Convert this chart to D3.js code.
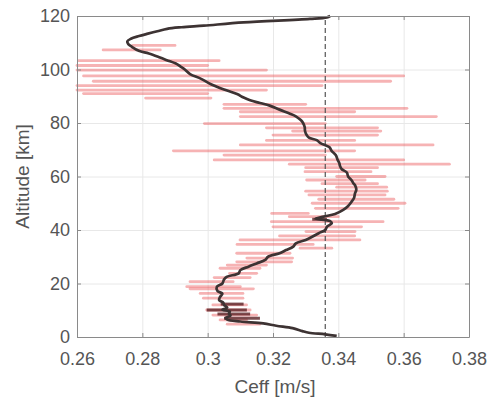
<!DOCTYPE html>
<html>
<head>
<meta charset="utf-8">
<script src="https://cdn.jsdelivr.net/npm/d3@7"></script>
<style>
  body { margin: 0; background: #fff; }
  svg { font-family: "Liberation Sans", Arial, sans-serif; }
</style>
</head>
<body>
<div id="chart"></div>
<script>
// axis ticks
const xTicks = [0.26, 0.28, 0.3, 0.32, 0.34, 0.36, 0.38];
const yTicks = [0, 20, 40, 60, 80, 100, 120];
const refCeff = 0.336;

// mean profile (black)
const profileAlt = [0.4, 1.0, 1.6, 2.2, 3.3, 4.2, 5.1, 5.8, 6.5, 7.2, 8.0, 8.8, 9.5, 10.2, 11.0, 12.0, 12.8, 13.8, 15.0, 16.2,
  17.2, 18.8, 20.0, 21.5, 22.5, 23.8, 25.0, 26.3, 27.5, 28.8, 30.0, 31.3, 32.5, 33.8, 35.0, 36.3, 37.5, 38.8, 40.0, 41.2,
  42.5, 43.3, 44.2, 45.0, 46.0, 47.5, 49.0, 50.5, 52.0, 53.7, 55.0, 56.5, 57.5, 58.7, 60.0, 61.5, 62.8, 64.0, 65.0, 66.2,
  68.0, 69.5, 71.0, 72.5, 73.6, 74.5, 75.5, 77.0, 78.5, 80.0, 81.1, 82.5, 83.5, 85.0, 86.5, 87.5, 88.5, 89.5, 90.8, 92.5,
  94.5, 96.5, 98.3, 100.0, 101.0, 102.0, 103.5, 104.5, 106.0, 107.0, 108.5, 109.5, 110.5, 111.5, 112.5, 113.3, 114.3, 115.2,
  115.8, 116.4, 117.6, 118.9, 119.5, 120.0];
const profileCeff = [0.3395, 0.336, 0.331, 0.329, 0.326, 0.321, 0.317, 0.310, 0.306, 0.3055, 0.307, 0.3065, 0.3068, 0.3045, 0.306, 0.305, 0.3048, 0.3035, 0.3038, 0.3045,
  0.303, 0.3028, 0.3045, 0.305, 0.3058, 0.3095, 0.310, 0.3125, 0.315, 0.3176, 0.3185, 0.322, 0.324, 0.3262, 0.327, 0.330, 0.332, 0.334, 0.336, 0.3365,
  0.338, 0.3375, 0.333, 0.3355, 0.339, 0.3415, 0.343, 0.344, 0.3448, 0.3451, 0.3455, 0.3452, 0.3446, 0.344, 0.343, 0.3426, 0.341, 0.3405, 0.3403, 0.3398,
  0.3392, 0.338, 0.3372, 0.3345, 0.3334, 0.331, 0.3303, 0.3298, 0.3297, 0.3292, 0.3285, 0.327, 0.3252, 0.322, 0.319, 0.316, 0.313, 0.311, 0.309, 0.305,
  0.301, 0.298, 0.2946, 0.293, 0.2918, 0.2906, 0.2875, 0.2854, 0.282, 0.2789, 0.2768, 0.2757, 0.2754, 0.2765, 0.279, 0.2814, 0.2846, 0.2876,
  0.292, 0.2988, 0.311, 0.3313, 0.3365, 0.3375];

// spread of individual estimates (red bars)
const spreadAlt = [109.0, 107.3, 103.3, 101.5, 99.8, 97.6, 95.6, 94.0, 92.3, 91.0, 89.3, 87.0, 85.5, 84.2, 82.4, 79.8, 78.2, 77.0, 75.5, 73.5,
  71.8, 69.6, 68.0, 66.2, 64.6, 63.3, 61.8, 60.0, 58.7, 57.3, 56.0, 54.5, 53.1, 51.5, 50.0, 48.1, 46.2, 45.0, 43.1, 41.2,
  39.4, 37.8, 36.3, 34.6, 33.2, 31.3, 29.5, 28.1, 26.9, 25.7, 23.8, 22.2, 20.7, 18.8, 18.0, 16.3, 14.5, 12.0, 10.1, 8.2, 6.4, 4.8];
const spreadMin = [0.277, 0.268, 0.2605, 0.26, 0.26, 0.262, 0.265, 0.26, 0.26, 0.262, 0.281, 0.305, 0.305, 0.31, 0.31, 0.299, 0.318, 0.326, 0.32, 0.318,
  0.31, 0.2895, 0.305, 0.302, 0.325, 0.33, 0.3298, 0.3395, 0.3303, 0.335, 0.3395, 0.33, 0.331, 0.334, 0.332, 0.333, 0.3196, 0.325, 0.3195, 0.32,
  0.3301, 0.322, 0.3099, 0.309, 0.3283, 0.3089, 0.312, 0.3089, 0.306, 0.3038, 0.3067, 0.302, 0.2946, 0.2936, 0.2946, 0.2977, 0.2987, 0.3016, 0.2997, 0.3016, 0.3038, 0.306];
const spreadMax = [0.290, 0.2855, 0.3035, 0.300, 0.318, 0.360, 0.356, 0.335, 0.318, 0.300, 0.301, 0.330, 0.361, 0.345, 0.370, 0.336, 0.352, 0.353, 0.352, 0.345,
  0.369, 0.345, 0.336, 0.360, 0.374, 0.352, 0.350, 0.3543, 0.3482, 0.352, 0.3548, 0.355, 0.3543, 0.357, 0.3604, 0.3583, 0.3308, 0.340, 0.3537, 0.3471,
  0.3451, 0.345, 0.3466, 0.3323, 0.338, 0.3252, 0.326, 0.3257, 0.318, 0.316, 0.315, 0.313, 0.3078, 0.310, 0.314, 0.3108, 0.3108, 0.3119, 0.313, 0.315, 0.3119, 0.316];

// darker bars near the ground
const darkAlt = [12.3, 10.1, 8.6, 7.0, 44.0];
const darkMin = [0.304, 0.2997, 0.303, 0.305, 0.332];
const darkMax = [0.311, 0.312, 0.313, 0.316, 0.3365];

const W = 491, H = 399;
const mLeft = 77, mRight = 469, mTop = 16, mBottom = 337;

const svg = d3.select("#chart").append("svg")
  .attr("width", W).attr("height", H);

const x = d3.scaleLinear().domain([0.26, 0.38]).range([mLeft, mRight]);
const y = d3.scaleLinear().domain([0, 120]).range([mBottom, mTop]);

// grid
svg.append("g")
  .attr("transform", `translate(0,${mBottom})`)
  .call(d3.axisBottom(x).tickValues(xTicks).tickSize(-(mBottom - mTop)).tickFormat(""))
  .call(g => g.select(".domain").remove())
  .call(g => g.selectAll("line").attr("stroke", "#e8e8e8"));
svg.append("g")
  .attr("transform", `translate(${mLeft},0)`)
  .call(d3.axisLeft(y).tickValues(yTicks).tickSize(-(mRight - mLeft)).tickFormat(""))
  .call(g => g.select(".domain").remove())
  .call(g => g.selectAll("line").attr("stroke", "#e8e8e8"));

// red spread bars
const spread = spreadAlt.map((a, i) => ({ alt: a, lo: spreadMin[i], hi: spreadMax[i] }));
svg.append("g").selectAll("line")
  .data(spread)
  .enter().append("line")
  .attr("x1", d => x(d.lo))
  .attr("x2", d => x(d.hi))
  .attr("y1", d => y(d.alt))
  .attr("y2", d => y(d.alt))
  .attr("stroke", "#ea4a4c")
  .attr("stroke-opacity", 0.42)
  .attr("stroke-width", 2.8)
  .attr("stroke-linecap", "round");

const dark = darkAlt.map((a, i) => ({ alt: a, lo: darkMin[i], hi: darkMax[i] }));
svg.append("g").selectAll("line")
  .data(dark)
  .enter().append("line")
  .attr("x1", d => x(d.lo))
  .attr("x2", d => x(d.hi))
  .attr("y1", d => y(d.alt))
  .attr("y2", d => y(d.alt))
  .attr("stroke", "#5a2024")
  .attr("stroke-opacity", 0.8)
  .attr("stroke-width", 3);

// reference dashed line
svg.append("line")
  .attr("x1", x(refCeff)).attr("x2", x(refCeff))
  .attr("y1", y(0)).attr("y2", y(120))
  .attr("stroke", "#555")
  .attr("stroke-width", 1.2)
  .attr("stroke-dasharray", "5,3");

// mean profile
const profile = profileAlt.map((a, i) => ({ alt: a, c: profileCeff[i] }));
svg.append("path")
  .datum(profile)
  .attr("fill", "none")
  .attr("stroke", "#3d3333")
  .attr("stroke-width", 2.7)
  .attr("stroke-linejoin", "round")
  .attr("d", d3.line().x(d => x(d.c)).y(d => y(d.alt)).curve(d3.curveCatmullRom));

// axes, MATLAB-style box with inward ticks
const axisColor = "#8a8a8a";
const labelColor = "#555";
function styleAxis(g) {
  g.selectAll(".domain").attr("stroke", axisColor);
  g.selectAll(".tick line").attr("stroke", axisColor);
  g.selectAll("text").attr("fill", labelColor).attr("font-size", 18);
}
svg.append("g")
  .attr("transform", `translate(0,${mBottom})`)
  .call(d3.axisBottom(x).tickValues(xTicks).tickSizeInner(-4).tickSizeOuter(0).tickPadding(15).tickFormat(d3.format("")))
  .call(styleAxis);
svg.append("g")
  .attr("transform", `translate(0,${mTop})`)
  .call(d3.axisTop(x).tickValues(xTicks).tickSizeInner(-4).tickSizeOuter(0).tickFormat(""))
  .call(styleAxis);
svg.append("g")
  .attr("transform", `translate(${mLeft},0)`)
  .call(d3.axisLeft(y).tickValues(yTicks).tickSizeInner(-4).tickSizeOuter(0).tickPadding(7))
  .call(styleAxis);
svg.append("g")
  .attr("transform", `translate(${mRight},0)`)
  .call(d3.axisRight(y).tickValues(yTicks).tickSizeInner(-4).tickSizeOuter(0).tickFormat(""))
  .call(styleAxis);

// axis titles
svg.append("text")
  .attr("x", (mLeft + mRight) / 2 + 2)
  .attr("y", 393)
  .attr("text-anchor", "middle")
  .attr("font-size", 19)
  .attr("fill", labelColor)
  .text("Ceff [m/s]");
svg.append("text")
  .attr("transform", `translate(29,${(mTop + mBottom) / 2}) rotate(-90)`)
  .attr("text-anchor", "middle")
  .attr("font-size", 19)
  .attr("fill", labelColor)
  .text("Altitude [km]");
</script>
</body>
</html>
